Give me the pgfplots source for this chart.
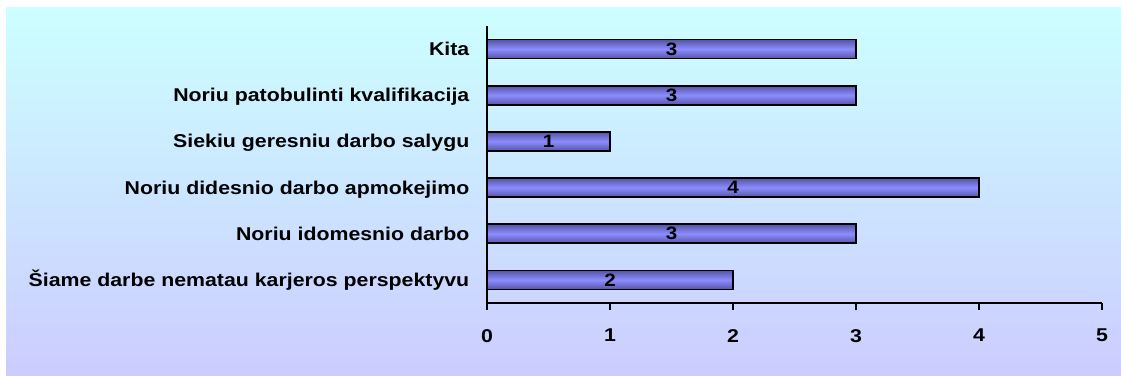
\documentclass[border=0pt]{standalone}
\usepackage{fontspec}
\setmainfont{Liberation Sans}
\newfontfamily\widefont{Liberation Sans}[FakeStretch=1.15]
\usepackage{pgfplots}
\pgfplotsset{compat=1.18}
\definecolor{bgtop}{RGB}{204,255,255}
\definecolor{bgbot}{RGB}{204,204,255}
\definecolor{barmid}{RGB}{140,140,255}
\definecolor{baredge}{RGB}{85,85,165}
\pgfplotsset{
  mybar/.style={
    xbar, bar width=19bp, bar shift=0pt,
    draw=black, line width=1.6bp,
    shading=axis, top color=baredge, bottom color=baredge, middle color=barmid,
    visualization depends on=rawx \as \rawx,
    nodes near coords,
    nodes near coords style={anchor=center, inner sep=0pt, font=\widefont\fontsize{18}{20}\selectfont\bfseries,
      xshift=-61.5bp*\rawx, text=black},
  }
}
\begin{document}
\begin{tikzpicture}[x=1bp,y=1bp]
\useasboundingbox (0,0) rectangle (1121,375);
\shade[top color=bgtop, bottom color=bgbot] (6,0) rectangle (1121,367);
\begin{axis}[
  at={(487bp,72bp)}, anchor=south west,
  scale only axis, width=615bp, height=277bp,
  xmin=0, xmax=5, ymin=-0.5, ymax=5.5,
  axis x line=bottom, axis y line=left,
  axis line style={-, line width=1.6bp, black},
  xtick={0,1,2,3,4,5},
  xtick align=outside,
  major tick length=7bp,
  x tick style={line width=1.6bp, black},
  ytick={0,1,2,3,4,5},
  y tick style={draw=none},
  yticklabels={Šiame darbe nematau karjeros perspektyvu, Noriu idomesnio darbo, Noriu didesnio darbo apmokejimo, Siekiu geresniu darbo salygu, Noriu patobulinti kvalifikacija, Kita},
  /pgf/number format/assume math mode=true,
  xticklabel style={font=\widefont\fontsize{18.6}{20}\selectfont\bfseries, anchor=north, inner sep=0pt, yshift=-19bp},
  yticklabel style={font=\widefont\fontsize{18.6}{20}\selectfont\bfseries, anchor=base east, inner sep=0pt, xshift=-14bp, yshift=-6.5bp},
  clip=false,
]
\addplot[mybar] coordinates {(2,0)};
\addplot[mybar] coordinates {(3,1)};
\addplot[mybar] coordinates {(4,2)};
\addplot[mybar] coordinates {(1,3)};
\addplot[mybar] coordinates {(3,4)};
\addplot[mybar] coordinates {(3,5)};
\end{axis}
\end{tikzpicture}
\end{document}
